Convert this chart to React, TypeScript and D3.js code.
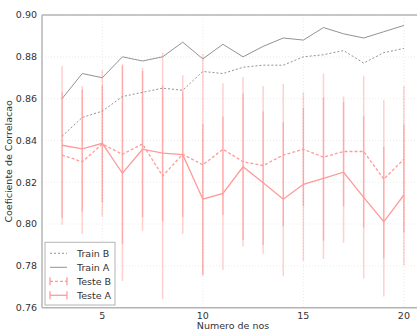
import React from "react";
import * as d3 from "d3";

const nodes = [3, 4, 5, 6, 7, 8, 9, 10, 11, 12, 13, 14, 15, 16, 17, 18, 19, 20];
const trainA = [0.860, 0.872, 0.870, 0.880, 0.878, 0.880, 0.887, 0.879, 0.886, 0.880, 0.885, 0.889, 0.888, 0.894, 0.891, 0.889, 0.892, 0.895];
const trainB = [0.842, 0.851, 0.854, 0.861, 0.863, 0.865, 0.864, 0.873, 0.872, 0.875, 0.876, 0.876, 0.880, 0.881, 0.883, 0.877, 0.882, 0.884];
const testeA = [0.8377, 0.836, 0.8386, 0.8243, 0.8358, 0.8339, 0.8332, 0.8119, 0.8147, 0.8274, 0.8198, 0.8119, 0.819, 0.8219, 0.8248, 0.8128, 0.8011, 0.8139];
const testeAErr = [0.038, 0.030, 0.035, 0.0515, 0.039, 0.0324, 0.038, 0.036, 0.0367, 0.035, 0.034, 0.0368, 0.0365, 0.0386, 0.0337, 0.0388, 0.0358, 0.0337];
const testeB = [0.833, 0.8298, 0.8383, 0.8334, 0.8383, 0.823, 0.8334, 0.8283, 0.8358, 0.8298, 0.828, 0.833, 0.8358, 0.832, 0.8347, 0.8347, 0.8215, 0.831];
const testeBErr = [0.030, 0.0346, 0.028, 0.043, 0.035, 0.059, 0.030, 0.053, 0.0315, 0.0405, 0.038, 0.034, 0.0272, 0.040, 0.0263, 0.0363, 0.0378, 0.035];
const xTicks = [5, 10, 15, 20];
const yTicks = [0.76, 0.78, 0.80, 0.82, 0.84, 0.86, 0.88, 0.90];
const legendLabels = ["Train B", "Train A", "Teste B", "Teste A"];

const W = 417, H = 329;
const L = 42, T = 15, R = 424, B = 307.7;
const font = "'DejaVu Sans', sans-serif";

export default function App() {
  const x = d3.scaleLinear().domain([2, 21]).range([L, R]);
  const y = d3.scaleLinear().domain([0.76, 0.90]).range([B, T]);
  const line = (vals: number[]) =>
    d3.line<number>().x((_, i) => x(nodes[i])).y((v) => y(v))(vals) || "";
  const pinkBar = "rgba(255,40,40,0.22)";
  const pink = "#ff9a9a";
  const gray = "#939393";
  const spine = "#b4b4b4";

  const errBars = (vals: number[], errs: number[], key: string) =>
    vals.map((v, i) => (
      <line key={key + i} x1={x(nodes[i])} x2={x(nodes[i])} y1={y(v + errs[i])} y2={y(v - errs[i])} stroke={pinkBar} strokeWidth={1.5} />
    ));

  const legY = [253.3, 267.3, 281.3, 295.3];
  return (
    <svg width={W} height={H} style={{ position: "absolute", left: 0, top: 0, background: "#fff" }}>
      <defs>
        <clipPath id="plot">
          <rect x={L} y={T} width={R - L} height={B - T} />
        </clipPath>
      </defs>
      {xTicks.map((t) => (
        <line key={"gx" + t} x1={x(t)} x2={x(t)} y1={T} y2={B} stroke="#e4e4e4" strokeWidth={0.8} strokeDasharray="1,2" />
      ))}
      {yTicks.map((t) => (
        <line key={"gy" + t} x1={L} x2={R} y1={y(t)} y2={y(t)} stroke="#e4e4e4" strokeWidth={0.8} strokeDasharray="1,2" />
      ))}
      <g clipPath="url(#plot)">
        {errBars(testeB, testeBErr, "eb")}
        {errBars(testeA, testeAErr, "ea")}
        <path d={line(testeB)} fill="none" stroke={pink} strokeWidth={1.3} strokeDasharray="3,2" />
        <path d={line(testeA)} fill="none" stroke={pink} strokeWidth={1.3} />
        <path d={line(trainB)} fill="none" stroke={gray} strokeWidth={1} strokeDasharray="2,2" />
        <path d={line(trainA)} fill="none" stroke={gray} strokeWidth={1} />
      </g>
      <line x1={L} x2={L} y1={T} y2={B} stroke={spine} strokeWidth={1.5} />
      <line x1={L} x2={R} y1={B} y2={B} stroke={spine} strokeWidth={1.5} />
      <line x1={L} x2={R} y1={T} y2={T} stroke={spine} strokeWidth={1.5} />
      {yTicks.map((t) => (
        <text key={"yl" + t} x={L - 5} y={y(t)} dy="0.35em" textAnchor="end" fontFamily={font} fontSize={9.5} fill="#333">
          {t.toFixed(2)}
        </text>
      ))}
      {xTicks.map((t) => (
        <text key={"xl" + t} x={x(t)} y={B + 11} textAnchor="middle" fontFamily={font} fontSize={9.5} fill="#333">
          {t}
        </text>
      ))}
      <text x={(L + R) / 2} y={328.5} textAnchor="middle" fontFamily={font} fontSize={9.5} fill="#333">
        Numero de nos
      </text>
      <text transform={`translate(12,${(T + B) / 2}) rotate(-90)`} textAnchor="middle" fontFamily={font} fontSize={9.5} fill="#333">
        Coeficiente de Correlacao
      </text>
      <rect x={45} y={242.3} width={70} height={62.7} fill="#fff" stroke="#b4b4b4" strokeWidth={1} />
      {legendLabels.map((lab, i) => {
        const ly = legY[i];
        const isTrain = i < 2;
        return (
          <g key={lab}>
            <line x1={50} x2={67} y1={ly} y2={ly} stroke={isTrain ? gray : pink} strokeWidth={isTrain ? 1 : 1.3} strokeDasharray={i === 0 ? "2,2" : i === 2 ? "3,2" : undefined} />
            {!isTrain && (
              <>
                <line x1={50} x2={50} y1={ly - 4} y2={ly + 4} stroke={pink} strokeWidth={1.3} />
                <line x1={67} x2={67} y1={ly - 4} y2={ly + 4} stroke={pink} strokeWidth={1.3} />
              </>
            )}
            <text x={77} y={ly} dy="0.35em" fontFamily={font} fontSize={9.5} fill="#333">
              {lab}
            </text>
          </g>
        );
      })}
    </svg>
  );
}
